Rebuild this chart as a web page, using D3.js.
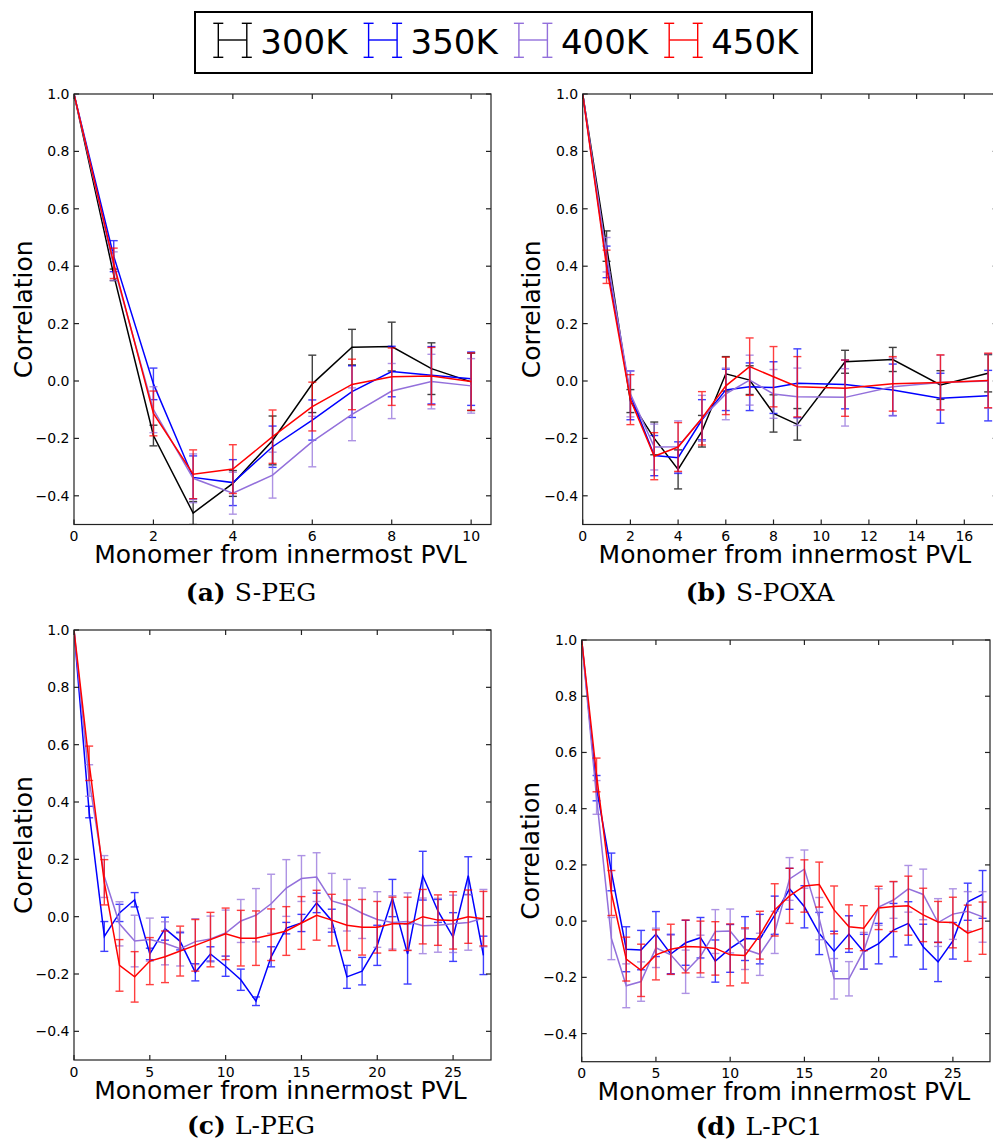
<!DOCTYPE html>
<html>
<head>
<meta charset="utf-8">
<script src="https://cdn.jsdelivr.net/npm/d3@7"></script>
<style>
  body { margin: 0; background: #fff; }
  svg { display: block; }
  .tick-label { font-family: "DejaVu Sans", sans-serif; font-size: 14px; fill: #000; }
  .axis-label { font-family: "DejaVu Sans", sans-serif; font-size: 25px; fill: #000; }
  .caption { font-family: "DejaVu Serif", serif; font-size: 25px; fill: #000; }
  .legend-label { font-family: "DejaVu Sans", sans-serif; font-size: 34px; fill: #000; }
</style>
</head>
<body>
<svg id="chart" width="993" height="1144"></svg>
<script>
// series names + colours
const temps = ['300K', '350K', '400K', '450K'];
const colors = ['#000000', '#0000ff', '#9370db', '#ff0000'];
const yTicks = [-0.4, -0.2, 0.0, 0.2, 0.4, 0.6, 0.8, 1.0];

// (a) S-PEG
const sPegX = [0, 1, 2, 3, 4, 5, 6, 7, 8, 9, 10];
const sPeg300 = [1.0, 0.37, -0.19, -0.46, -0.357, -0.207, -0.01, 0.118, 0.12, 0.043, -0.003];
const sPeg300Err = [0, 0.02, 0.036, 0.04, 0.045, 0.085, 0.1, 0.062, 0.085, 0.09, 0.1];
const sPeg350 = [1.0, 0.435, -0.01, -0.336, -0.354, -0.229, -0.136, -0.037, 0.033, 0.02, 0.008];
const sPeg350Err = [0, 0.054, 0.055, 0.075, 0.08, 0.072, 0.07, 0.09, 0.088, 0.1, 0.093];
const sPeg400 = [1.0, 0.40, -0.1, -0.339, -0.391, -0.328, -0.211, -0.116, -0.035, -0.002, -0.017];
const sPeg400Err = [0, 0.05, 0.08, 0.085, 0.073, 0.08, 0.088, 0.092, 0.096, 0.095, 0.095];
const sPeg450 = [1.0, 0.41, -0.113, -0.325, -0.307, -0.194, -0.089, -0.012, 0.015, 0.017, -0.002];
const sPeg450Err = [0, 0.053, 0.078, 0.085, 0.085, 0.093, 0.085, 0.088, 0.1, 0.1, 0.1];

// (b) S-POXA
const sPoxaX = [0, 1, 2, 3, 4, 5, 6, 7, 8, 9, 11, 13, 15, 17];
const sPoxa300 = [1.0, 0.47, -0.07, -0.2, -0.308, -0.175, 0.025, 0.003, -0.113, -0.151, 0.067, 0.075, -0.014, 0.027];
const sPoxa300Err = [0, 0.053, 0.04, 0.057, 0.068, 0.055, 0.06, 0.05, 0.065, 0.055, 0.04, 0.042, 0.05, 0.065];
const sPoxa350 = [1.0, 0.415, -0.05, -0.26, -0.267, -0.135, -0.031, -0.02, -0.023, -0.008, -0.012, -0.031, -0.06, -0.051];
const sPoxa350Err = [0, 0.055, 0.085, 0.07, 0.055, 0.07, 0.072, 0.083, 0.09, 0.12, 0.085, 0.09, 0.087, 0.088];
const sPoxa400 = [1.0, 0.44, -0.045, -0.23, -0.229, -0.13, -0.045, 0.003, -0.045, -0.055, -0.057, -0.02, -0.005, 0.0];
const sPoxa400Err = [0, 0.06, 0.08, 0.08, 0.09, 0.08, 0.09, 0.087, 0.085, 0.1, 0.1, 0.1, 0.095, 0.095];
const sPoxa450 = [1.0, 0.398, -0.065, -0.262, -0.23, -0.13, -0.017, 0.05, 0.015, -0.02, -0.025, -0.01, -0.005, 0.002];
const sPoxa450Err = [0, 0.058, 0.087, 0.082, 0.085, 0.093, 0.1, 0.1, 0.105, 0.105, 0.098, 0.095, 0.096, 0.095];

// (c) L-PEG  (no 300K run)
const lPegX = d3.range(0, 28);
const lPeg350 = [1.0, 0.365, -0.069, 0.013, 0.059, -0.13, -0.042, -0.086, -0.194, -0.13, -0.173, -0.22, -0.295, -0.14, -0.04, -0.022, 0.048, -0.014, -0.21, -0.19, -0.1, 0.065, -0.13, 0.143, 0.02, -0.071, 0.143, -0.135];
const lPeg350Err = [0, 0.02, 0.052, 0.03, 0.025, 0.02, 0.04, 0.03, 0.03, 0.025, 0.035, 0.037, 0.015, 0.035, 0.02, 0.03, 0.034, 0.04, 0.04, 0.048, 0.07, 0.065, 0.105, 0.085, 0.04, 0.085, 0.066, 0.067];
const lPeg400 = [1.0, 0.475, 0.14, -0.025, -0.085, -0.08, -0.093, -0.112, -0.087, -0.078, -0.057, -0.015, 0.005, 0.045, 0.1, 0.133, 0.138, 0.055, 0.04, 0.012, -0.01, -0.02, -0.017, -0.032, -0.03, -0.025, -0.02, -0.005];
const lPeg400Err = [0, 0.055, 0.073, 0.077, 0.09, 0.075, 0.075, 0.06, 0.08, 0.08, 0.08, 0.075, 0.093, 0.103, 0.099, 0.08, 0.085, 0.096, 0.09, 0.088, 0.097, 0.093, 0.1, 0.097, 0.094, 0.1, 0.097, 0.1];
const lPeg450 = [1.0, 0.535, 0.12, -0.17, -0.21, -0.155, -0.14, -0.12, -0.1, -0.08, -0.06, -0.075, -0.075, -0.063, -0.05, -0.022, 0.005, -0.012, -0.03, -0.037, -0.037, -0.025, -0.025, 0.0, -0.012, -0.013, 0.0, -0.007];
const lPeg450Err = [0, 0.06, 0.079, 0.09, 0.088, 0.082, 0.09, 0.087, 0.09, 0.095, 0.09, 0.097, 0.095, 0.09, 0.085, 0.092, 0.087, 0.09, 0.088, 0.097, 0.09, 0.093, 0.093, 0.095, 0.088, 0.1, 0.093, 0.095];

// (d) L-PC1  (no 300K run)
const lPc1X = d3.range(0, 28);
const lPc1350 = [1.0, 0.473, 0.175, -0.1, -0.103, -0.046, -0.117, -0.077, -0.059, -0.142, -0.097, -0.062, -0.064, 0.021, 0.115, 0.051, -0.044, -0.107, -0.046, -0.109, -0.08, -0.032, -0.008, -0.091, -0.145, -0.07, 0.069, 0.095];
const lPc1350Err = [0, 0.045, 0.067, 0.08, 0.07, 0.08, 0.07, 0.08, 0.072, 0.075, 0.085, 0.078, 0.088, 0.068, 0.073, 0.075, 0.075, 0.071, 0.065, 0.062, 0.072, 0.095, 0.077, 0.08, 0.07, 0.065, 0.066, 0.085];
const lPc1400 = [1.0, 0.44, -0.062, -0.23, -0.215, -0.095, -0.12, -0.18, -0.125, -0.037, -0.035, -0.1, -0.118, -0.04, 0.15, 0.185, 0.009, -0.205, -0.205, -0.105, 0.05, 0.075, 0.115, 0.095, -0.005, 0.025, 0.035, 0.015];
const lPc1400Err = [0, 0.06, 0.075, 0.078, 0.07, 0.07, 0.07, 0.077, 0.075, 0.078, 0.078, 0.072, 0.075, 0.075, 0.076, 0.068, 0.075, 0.072, 0.061, 0.065, 0.065, 0.065, 0.083, 0.09, 0.085, 0.09, 0.07, 0.09];
const lPc1450 = [1.0, 0.52, 0.1, -0.135, -0.175, -0.12, -0.1, -0.09, -0.092, -0.097, -0.12, -0.122, -0.05, 0.04, 0.09, 0.125, 0.13, 0.04, -0.02, -0.025, 0.047, 0.052, 0.055, 0.022, -0.003, -0.005, -0.043, -0.025];
const lPc1450Err = [0, 0.06, 0.08, 0.078, 0.093, 0.089, 0.089, 0.094, 0.092, 0.095, 0.11, 0.098, 0.085, 0.093, 0.098, 0.093, 0.08, 0.085, 0.078, 0.08, 0.077, 0.089, 0.105, 0.095, 0.073, 0.09, 0.1, 0.093];

const panels = [
  {
    id: 'a', tag: '(a)', name: 'S-PEG', x: sPegX,
    xDomain: [0, 10.5], xTicks: [0, 2, 4, 6, 8, 10],
    left: 74, right: 491, top: 94, bottom: 524.5, capX: 251, capY: 601,
    series: [[0, sPeg300, sPeg300Err], [1, sPeg350, sPeg350Err], [2, sPeg400, sPeg400Err], [3, sPeg450, sPeg450Err]]
  },
  {
    id: 'b', tag: '(b)', name: 'S-POXA', x: sPoxaX,
    xDomain: [0, 17.4], xTicks: [0, 2, 4, 6, 8, 10, 12, 14, 16],
    left: 582.7, right: 997.7, top: 94, bottom: 524.5, capX: 760, capY: 601,
    series: [[0, sPoxa300, sPoxa300Err], [1, sPoxa350, sPoxa350Err], [2, sPoxa400, sPoxa400Err], [3, sPoxa450, sPoxa450Err]]
  },
  {
    id: 'c', tag: '(c)', name: 'L-PEG', x: lPegX,
    xDomain: [0, 27.5], xTicks: [0, 5, 10, 15, 20, 25],
    left: 74, right: 491, top: 630, bottom: 1060, capX: 251, capY: 1134,
    series: [[1, lPeg350, lPeg350Err], [2, lPeg400, lPeg400Err], [3, lPeg450, lPeg450Err]]
  },
  {
    id: 'd', tag: '(d)', name: 'L-PC1', x: lPc1X,
    xDomain: [0, 27.5], xTicks: [0, 5, 10, 15, 20, 25],
    left: 581.7, right: 990, top: 640, bottom: 1061.7, capX: 759, capY: 1135,
    series: [[1, lPc1350, lPc1350Err], [2, lPc1400, lPc1400Err], [3, lPc1450, lPc1450Err]]
  }
];

const svg = d3.select('#chart');
svg.append('rect').attr('width', 993).attr('height', 1144).attr('fill', '#fff');

const fmt = d => d3.format('.1f')(d).replace('-', '\u2212');
const tickLen = 5;
const capHalf = 4;

panels.forEach(p => {
  const x = d3.scaleLinear().domain(p.xDomain).range([p.left, p.right]);
  const y = d3.scaleLinear().domain([-0.5, 1.0]).range([p.bottom, p.top]);
  const g = svg.append('g').attr('class', `panel-${p.id}`);

  g.append('clipPath').attr('id', `clip-${p.id}`)
    .append('rect')
    .attr('x', p.left).attr('y', p.top)
    .attr('width', p.right - p.left).attr('height', p.bottom - p.top);

  const plot = g.append('g').attr('clip-path', `url(#clip-${p.id})`);

  const line = d3.line()
    .x((d, i) => x(p.x[i]))
    .y(d => y(d));

  p.series.forEach(([k, vals, errs]) => {
    const c = colors[k];
    const s = plot.append('g').attr('class', `series-${temps[k]}`);

    const bars = s.append('g').attr('stroke', c).attr('stroke-width', 1.4).attr('opacity', 0.75);
    vals.forEach((v, i) => {
      const e = errs[i];
      if (!e) return;
      const cx = x(p.x[i]);
      bars.append('line').attr('x1', cx).attr('x2', cx).attr('y1', y(v - e)).attr('y2', y(v + e));
      bars.append('line').attr('x1', cx - capHalf).attr('x2', cx + capHalf).attr('y1', y(v - e)).attr('y2', y(v - e));
      bars.append('line').attr('x1', cx - capHalf).attr('x2', cx + capHalf).attr('y1', y(v + e)).attr('y2', y(v + e));
    });

    s.append('path')
      .datum(vals)
      .attr('d', line)
      .attr('fill', 'none')
      .attr('stroke', c)
      .attr('stroke-width', 1.5);
  });

  // frame + inward ticks on every side
  const frame = g.append('g').attr('stroke', '#222').attr('stroke-width', 1.2).attr('fill', 'none');
  frame.append('rect')
    .attr('x', p.left).attr('y', p.top)
    .attr('width', p.right - p.left).attr('height', p.bottom - p.top);

  yTicks.forEach(t => {
    frame.append('line').attr('x1', p.left).attr('x2', p.left + tickLen).attr('y1', y(t)).attr('y2', y(t));
    frame.append('line').attr('x1', p.right).attr('x2', p.right - tickLen).attr('y1', y(t)).attr('y2', y(t));
    g.append('text').attr('class', 'tick-label')
      .attr('x', p.left - 4.5).attr('y', y(t))
      .attr('text-anchor', 'end').attr('dominant-baseline', 'central')
      .text(fmt(t));
  });

  p.xTicks.forEach(t => {
    frame.append('line').attr('x1', x(t)).attr('x2', x(t)).attr('y1', p.bottom).attr('y2', p.bottom - tickLen);
    frame.append('line').attr('x1', x(t)).attr('x2', x(t)).attr('y1', p.top).attr('y2', p.top + tickLen);
    g.append('text').attr('class', 'tick-label')
      .attr('x', x(t)).attr('y', p.bottom + 16.5)
      .attr('text-anchor', 'middle')
      .text(t);
  });

  g.append('text').attr('class', 'axis-label')
    .attr('transform', `translate(${p.left - 42.5},${(p.top + p.bottom) / 2}) rotate(-90)`)
    .attr('text-anchor', 'middle')
    .text('Correlation');

  g.append('text').attr('class', 'axis-label')
    .attr('x', (p.left + Math.min(p.right, 991)) / 2 - 2).attr('y', p.bottom + 38.5)
    .attr('text-anchor', 'middle')
    .text('Monomer from innermost PVL');

  const cap = g.append('text').attr('class', 'caption')
    .attr('x', p.capX).attr('y', p.capY)
    .attr('text-anchor', 'middle');
  cap.append('tspan').attr('font-weight', 'bold').text(p.tag);
  cap.append('tspan').attr('dx', 9).text(p.name);
});

// legend
const legend = svg.append('g').attr('class', 'legend');
legend.append('rect')
  .attr('x', 195).attr('y', 12).attr('width', 617).attr('height', 61)
  .attr('fill', '#fff').attr('stroke', '#000').attr('stroke-width', 2);

temps.forEach((t, i) => {
  const x0 = 213.3 + i * 150.3;
  const h = legend.append('g').attr('stroke', colors[i]).attr('stroke-width', 1.4);
  [x0 + 5, x0 + 33.5].forEach(vx => {
    h.append('line').attr('x1', vx).attr('x2', vx).attr('y1', 23.3).attr('y2', 57.3);
    h.append('line').attr('x1', vx - 5).attr('x2', vx + 5).attr('y1', 23.3).attr('y2', 23.3);
    h.append('line').attr('x1', vx - 5).attr('x2', vx + 5).attr('y1', 57.3).attr('y2', 57.3);
  });
  h.append('line').attr('x1', x0 + 5).attr('x2', x0 + 33.5).attr('y1', 40).attr('y2', 40);
  legend.append('text').attr('class', 'legend-label')
    .attr('x', x0 + 47).attr('y', 53.5)
    .text(t);
});
</script>
</body>
</html>
